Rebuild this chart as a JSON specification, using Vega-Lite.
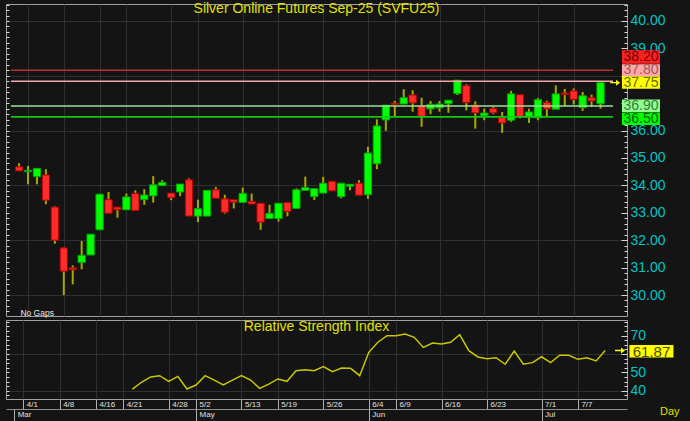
{
  "$schema": "https://vega.github.io/schema/vega-lite/v6.json",
  "background": "#141414",
  "padding": {"left": 5, "top": 1, "right": 12, "bottom": 0},
  "spacing": 4,
  "bounds": "flush",
  "config": {
    "font": "Liberation Sans",
    "view": {"stroke": "#a0a0a0", "strokeWidth": 1},
    "axis": {"labelFont": "Liberation Sans", "titleFont": "Liberation Sans", "domain": false, "labelFlush": false, "labelOverlap": false},
    "title": {"font": "Liberation Sans", "fontSize": 14, "fontWeight": "normal", "color": "#e0e000", "frame": "group", "anchor": "middle", "baseline": "alphabetic"}
  },
  "datasets": {
    "silver": [
      {"date":"2025-03-31","i":0,"open":34.68,"high":34.81,"low":34.52,"close":34.53,"rsi":null},
      {"date":"2025-04-01","i":1,"open":34.50,"high":34.71,"low":34.04,"close":34.55,"rsi":null},
      {"date":"2025-04-02","i":2,"open":34.32,"high":34.62,"low":34.04,"close":34.62,"rsi":null},
      {"date":"2025-04-03","i":3,"open":34.38,"high":34.59,"low":33.31,"close":33.46,"rsi":null},
      {"date":"2025-04-04","i":4,"open":33.21,"high":33.24,"low":31.87,"close":32.00,"rsi":null},
      {"date":"2025-04-08","i":5,"open":31.72,"high":31.74,"low":30.00,"close":30.87,"rsi":null},
      {"date":"2025-04-09","i":6,"open":30.99,"high":31.08,"low":30.39,"close":30.92,"rsi":null},
      {"date":"2025-04-10","i":7,"open":31.19,"high":31.97,"low":30.94,"close":31.45,"rsi":null},
      {"date":"2025-04-11","i":8,"open":31.46,"high":32.22,"low":31.46,"close":32.22,"rsi":null},
      {"date":"2025-04-16","i":9,"open":32.38,"high":33.68,"low":32.38,"close":33.68,"rsi":null},
      {"date":"2025-04-17","i":10,"open":33.48,"high":33.76,"low":32.98,"close":32.98,"rsi":null},
      {"date":"2025-04-18","i":11,"open":33.21,"high":33.21,"low":32.82,"close":33.11,"rsi":null},
      {"date":"2025-04-21","i":12,"open":33.11,"high":33.70,"low":33.11,"close":33.58,"rsi":null},
      {"date":"2025-04-22","i":13,"open":33.71,"high":33.82,"low":33.08,"close":33.08,"rsi":40.9},
      {"date":"2025-04-23","i":14,"open":33.48,"high":33.86,"low":33.29,"close":33.65,"rsi":44.6},
      {"date":"2025-04-24","i":15,"open":33.62,"high":34.34,"low":33.37,"close":34.02,"rsi":47.5},
      {"date":"2025-04-25","i":16,"open":33.99,"high":34.19,"low":33.99,"close":34.11,"rsi":48.2},
      {"date":"2025-04-28","i":17,"open":33.72,"high":33.72,"low":33.46,"close":33.55,"rsi":45.1},
      {"date":"2025-04-29","i":18,"open":33.76,"high":34.05,"low":33.61,"close":34.05,"rsi":47.8},
      {"date":"2025-04-30","i":19,"open":34.21,"high":34.26,"low":32.88,"close":32.88,"rsi":40.9},
      {"date":"2025-05-02","i":20,"open":32.88,"high":33.48,"low":32.66,"close":33.15,"rsi":43.1},
      {"date":"2025-05-05","i":21,"open":32.88,"high":33.82,"low":32.88,"close":33.82,"rsi":48.2},
      {"date":"2025-05-06","i":22,"open":33.84,"high":33.94,"low":33.53,"close":33.53,"rsi":45.8},
      {"date":"2025-05-07","i":23,"open":33.51,"high":33.66,"low":32.97,"close":33.02,"rsi":43.1},
      {"date":"2025-05-08","i":24,"open":33.48,"high":33.48,"low":33.16,"close":33.39,"rsi":45.8},
      {"date":"2025-05-13","i":25,"open":33.38,"high":33.92,"low":33.38,"close":33.71,"rsi":48.2},
      {"date":"2025-05-14","i":26,"open":33.42,"high":33.70,"low":33.32,"close":33.32,"rsi":45.8},
      {"date":"2025-05-15","i":27,"open":33.35,"high":33.35,"low":32.38,"close":32.66,"rsi":41.3},
      {"date":"2025-05-16","i":28,"open":32.79,"high":33.29,"low":32.79,"close":32.98,"rsi":43.6},
      {"date":"2025-05-19","i":29,"open":32.79,"high":33.35,"low":32.68,"close":33.35,"rsi":46.4},
      {"date":"2025-05-20","i":30,"open":33.38,"high":33.38,"low":32.87,"close":33.05,"rsi":45.1},
      {"date":"2025-05-21","i":31,"open":33.16,"high":33.89,"low":33.16,"close":33.84,"rsi":50.9},
      {"date":"2025-05-22","i":32,"open":33.82,"high":34.32,"low":33.82,"close":33.92,"rsi":51.4},
      {"date":"2025-05-23","i":33,"open":33.59,"high":33.88,"low":33.47,"close":33.88,"rsi":50.9},
      {"date":"2025-05-26","i":34,"open":33.72,"high":34.31,"low":33.72,"close":34.08,"rsi":53.1},
      {"date":"2025-05-27","i":35,"open":34.15,"high":34.15,"low":33.80,"close":33.80,"rsi":50.4},
      {"date":"2025-05-28","i":36,"open":33.59,"high":34.08,"low":33.53,"close":34.08,"rsi":52.4},
      {"date":"2025-05-29","i":37,"open":33.97,"high":34.04,"low":33.82,"close":34.04,"rsi":52.2},
      {"date":"2025-06-02","i":38,"open":34.08,"high":34.19,"low":33.64,"close":33.64,"rsi":48.2},
      {"date":"2025-06-04","i":39,"open":33.66,"high":35.41,"low":33.51,"close":35.18,"rsi":60.9},
      {"date":"2025-06-05","i":40,"open":34.79,"high":36.41,"low":34.59,"close":36.17,"rsi":66.4},
      {"date":"2025-06-06","i":41,"open":36.39,"high":36.93,"low":35.99,"close":36.93,"rsi":70.0},
      {"date":"2025-06-09","i":42,"open":37.00,"high":37.08,"low":36.51,"close":36.95,"rsi":70.0},
      {"date":"2025-06-10","i":43,"open":36.97,"high":37.51,"low":36.97,"close":37.20,"rsi":70.9},
      {"date":"2025-06-11","i":44,"open":37.30,"high":37.47,"low":36.69,"close":37.01,"rsi":69.1},
      {"date":"2025-06-12","i":45,"open":36.91,"high":37.20,"low":36.14,"close":36.52,"rsi":63.6},
      {"date":"2025-06-13","i":46,"open":36.79,"high":37.08,"low":36.60,"close":36.96,"rsi":66.0},
      {"date":"2025-06-16","i":47,"open":36.83,"high":37.08,"low":36.69,"close":36.97,"rsi":65.5},
      {"date":"2025-06-17","i":48,"open":36.98,"high":37.11,"low":36.65,"close":37.11,"rsi":66.4},
      {"date":"2025-06-18","i":49,"open":37.35,"high":37.84,"low":37.30,"close":37.84,"rsi":70.5},
      {"date":"2025-06-19","i":50,"open":37.64,"high":37.69,"low":36.74,"close":37.02,"rsi":61.8},
      {"date":"2025-06-20","i":51,"open":36.93,"high":37.07,"low":36.07,"close":36.65,"rsi":58.4},
      {"date":"2025-06-23","i":52,"open":36.54,"high":36.80,"low":36.38,"close":36.64,"rsi":57.4},
      {"date":"2025-06-24","i":53,"open":36.81,"high":36.87,"low":36.60,"close":36.65,"rsi":58.0},
      {"date":"2025-06-25","i":54,"open":36.47,"high":36.68,"low":35.92,"close":36.28,"rsi":54.4},
      {"date":"2025-06-26","i":55,"open":36.38,"high":37.45,"low":36.32,"close":37.34,"rsi":61.6},
      {"date":"2025-06-27","i":56,"open":37.31,"high":37.31,"low":36.45,"close":36.52,"rsi":54.4},
      {"date":"2025-06-30","i":57,"open":36.50,"high":36.80,"low":36.28,"close":36.68,"rsi":55.3},
      {"date":"2025-07-01","i":58,"open":36.47,"high":37.19,"low":36.38,"close":37.13,"rsi":58.5},
      {"date":"2025-07-02","i":59,"open":37.03,"high":37.09,"low":36.52,"close":36.79,"rsi":55.3},
      {"date":"2025-07-03","i":60,"open":36.78,"high":37.65,"low":36.78,"close":37.34,"rsi":59.3},
      {"date":"2025-07-04","i":61,"open":37.37,"high":37.52,"low":36.90,"close":37.31,"rsi":59.3},
      {"date":"2025-07-07","i":62,"open":37.45,"high":37.54,"low":36.95,"close":37.14,"rsi":57.1},
      {"date":"2025-07-08","i":63,"open":36.84,"high":37.41,"low":36.72,"close":37.27,"rsi":58.0},
      {"date":"2025-07-09","i":64,"open":37.20,"high":37.31,"low":36.86,"close":37.08,"rsi":56.2},
      {"date":"2025-07-10","i":65,"open":36.98,"high":37.78,"low":36.80,"close":37.75,"rsi":61.87}
    ],
    "levels": [
      {"name": "upper2", "value": 38.20},
      {"name": "upper1", "value": 37.80},
      {"name": "last", "value": 37.75},
      {"name": "lower1", "value": 36.90},
      {"name": "lower2", "value": 36.50}
    ]
  },
  "vconcat": [
    {
      "width": 621,
      "height": 312,
      "title": {"text": "Silver Online Futures Sep-25 (SVFU25)", "offset": -11.5},
      "data": {"name": "silver"},
      "resolve": {"axis": {"y": "independent"}},
      "layer": [
        {
          "mark": {"type": "rule", "color": "#a8a800", "strokeWidth": 2},
          "encoding": {
            "x": {"field": "i", "type": "quantitative", "scale": {"domain": [-0.9, 67.4], "nice": false, "zero": false},
              "axis": {"values": [1,5,9,12,17,20,25,29,34,39,42,47,52,58,62], "labels": false, "ticks": false, "domain": false, "grid": true, "gridColor": "#303030", "title": null}},
            "y": {"field": "low", "type": "quantitative", "scale": {"domain": [29.234, 40.62], "nice": false, "zero": false},
              "axis": {"orient": "right", "values": [30,31,32,33,34,35,36,37,38,39,40], "labelExpr": "datum.value == 37 || datum.value == 38 ? '' : format(datum.value, '.2f')", "labelColor": "#00c4c4", "labelFontSize": 14, "labelPadding": 9, "tickSize": -6, "tickColor": "#d8d8d8", "domain": false, "grid": true,
                "gridColor": {"condition": {"test": "datum.value % 2 == 0", "value": "#303030"}, "value": "transparent"}, "title": null}},
            "y2": {"field": "high"}
          }
        },
        {
          "mark": {"type": "bar", "size": 7.3, "strokeWidth": 1},
          "encoding": {
            "x": {"field": "i", "type": "quantitative"},
            "y": {"field": "open", "type": "quantitative", "scale": {"domain": [29.234, 40.62], "nice": false, "zero": false},
              "axis": {"orient": "right", "values": [29.4,29.6,29.8,30,30.2,30.4,30.6,30.8,31,31.2,31.4,31.6,31.8,32,32.2,32.4,32.6,32.8,33,33.2,33.4,33.6,33.8,34,34.2,34.4,34.6,34.8,35,35.2,35.4,35.6,35.8,36,36.2,36.4,36.6,36.8,37,37.2,37.4,37.6,37.8,38,38.2,38.4,38.6,38.8,39,39.2,39.4,39.6,39.8,40,40.2,40.4,40.6], "labels": false, "tickSize": -3, "tickColor": "#d8d8d8", "domain": false, "grid": false, "title": null}},
            "y2": {"field": "close"},
            "color": {"condition": {"test": "datum.close >= datum.open", "value": "#00ff00"}, "value": "#ff2a2a"},
            "stroke": {"condition": {"test": "datum.close >= datum.open", "value": "#00a800"}, "value": "#b00000"}
          }
        },
        {
          "data": {"name": "levels"},
          "transform": [{"filter": "datum.name != 'last'"}],
          "mark": {"type": "rule", "strokeWidth": 1.6},
          "encoding": {
            "x": {"datum": -0.9},
            "x2": {"datum": 66.4},
            "y": {"field": "value", "type": "quantitative",
              "axis": {"orient": "left", "values": [29.4,29.6,29.8,30,30.2,30.4,30.6,30.8,31,31.2,31.4,31.6,31.8,32,32.2,32.4,32.6,32.8,33,33.2,33.4,33.6,33.8,34,34.2,34.4,34.6,34.8,35,35.2,35.4,35.6,35.8,36,36.2,36.4,36.6,36.8,37,37.2,37.4,37.6,37.8,38,38.2,38.4,38.6,38.8,39,39.2,39.4,39.6,39.8,40,40.2,40.4,40.6], "labels": false, "tickSize": -3, "tickColor": "#d8d8d8", "domain": false, "grid": false, "title": null}},
            "color": {"field": "name", "type": "nominal", "scale": {"domain": ["upper2", "upper1", "lower1", "lower2"], "range": ["#c03030", "#f0a8a8", "#98e098", "#10c810"]}, "legend": null}
          }
        },
        {
          "data": {"name": "levels"},
          "mark": {"type": "point", "filled": true, "opacity": 1, "size": 4, "strokeWidth": 0},
          "encoding": {
            "x": {"datum": 69.52},
            "y": {"field": "value", "type": "quantitative", "axis": null},
            "shape": {"field": "name", "type": "nominal", "scale": {"domain": ["upper2", "upper1", "last", "lower1", "lower2"], "range": ["M-19,-20H19V-6.5H-19Z", "M-19,-17H19V-5H-19Z", "M-19,-6.5H19V6H-19Z", "M-19,-6.5H19V6H-19Z", "M-19,-4.5H19V8H-19Z"]}, "legend": null},
            "fill": {"field": "name", "type": "nominal", "scale": {"domain": ["upper2", "upper1", "last", "lower1", "lower2"], "range": ["#ff2020", "#ffa8a8", "#ffff00", "#90ff90", "#00ff00"]}, "legend": null}
          }
        },
        {
          "data": {"name": "levels"},
          "transform": [{"filter": "datum.name == 'upper2'"}],
          "mark": {"type": "text", "dy": -13, "fontSize": 14, "color": "#700000", "align": "center", "baseline": "middle"},
          "encoding": {"x": {"datum": 69.52}, "y": {"field": "value", "type": "quantitative", "axis": null}, "text": {"field": "value", "type": "quantitative", "format": ".2f"}}
        },
        {
          "data": {"name": "levels"},
          "transform": [{"filter": "datum.name == 'upper1'"}],
          "mark": {"type": "text", "dy": -11, "fontSize": 14, "color": "#a05858", "align": "center", "baseline": "middle"},
          "encoding": {"x": {"datum": 69.52}, "y": {"field": "value", "type": "quantitative", "axis": null}, "text": {"field": "value", "type": "quantitative", "format": ".2f"}}
        },
        {
          "data": {"name": "levels"},
          "transform": [{"filter": "datum.name == 'last'"}],
          "mark": {"type": "text", "dy": 0, "fontSize": 14, "color": "#6a6a00", "align": "center", "baseline": "middle"},
          "encoding": {"x": {"datum": 69.52}, "y": {"field": "value", "type": "quantitative", "axis": null}, "text": {"field": "value", "type": "quantitative", "format": ".2f"}}
        },
        {
          "data": {"name": "levels"},
          "transform": [{"filter": "datum.name == 'lower1'"}],
          "mark": {"type": "text", "dy": 0, "fontSize": 14, "color": "#3a7a3a", "align": "center", "baseline": "middle"},
          "encoding": {"x": {"datum": 69.52}, "y": {"field": "value", "type": "quantitative", "axis": null}, "text": {"field": "value", "type": "quantitative", "format": ".2f"}}
        },
        {
          "data": {"name": "levels"},
          "transform": [{"filter": "datum.name == 'lower2'"}],
          "mark": {"type": "text", "dy": 2, "fontSize": 14, "color": "#006000", "align": "center", "baseline": "middle"},
          "encoding": {"x": {"datum": 69.52}, "y": {"field": "value", "type": "quantitative", "axis": null}, "text": {"field": "value", "type": "quantitative", "format": ".2f"}}
        },
        {
          "transform": [{"filter": "datum.i == 65"}],
          "mark": {"type": "point", "filled": true, "opacity": 1, "size": 4, "strokeWidth": 0, "shape": "M-5,-0.7H1V-3L5,0L1,3V0.7H-5Z", "color": "#ffff00"},
          "encoding": {"x": {"datum": 66.63}, "y": {"field": "close", "type": "quantitative", "axis": null}}
        },
        {
          "data": {"values": [{}]},
          "mark": {"type": "text", "text": "No Gaps", "fontSize": 8.5, "color": "#e8e8e8", "align": "left", "baseline": "middle"},
          "encoding": {"x": {"datum": 0.15}, "y": {"datum": 29.36, "axis": null}}
        }
      ]
    },
    {
      "width": 621,
      "height": 79,
      "title": {"text": "Relative Strength Index", "offset": -14},
      "data": {"name": "silver"},
      "resolve": {"axis": {"x": "independent", "y": "independent"}},
      "layer": [
        {
          "transform": [{"filter": "isValid(datum.rsi)"}],
          "mark": {"type": "line", "color": "#c8c800", "strokeWidth": 1.5},
          "encoding": {
            "x": {"field": "i", "type": "quantitative", "scale": {"domain": [-0.9, 67.4], "nice": false, "zero": false},
              "axis": {"values": [1,5,9,12,17,20,25,29,34,39,42,47,52,58,62],
                "labelExpr": "['4/1','4/8','4/16','4/21','4/28','5/2','5/13','5/19','5/26','6/4','6/9','6/16','6/23','7/1','7/7'][indexof([1,5,9,12,17,20,25,29,34,39,42,47,52,58,62], datum.value)]",
                "labelFontSize": 8, "labelColor": "#e0e0e0", "labelAlign": "left", "labelBaseline": "top", "labelPadding": -9, "labelOffset": 3,
                "tickSize": 10, "tickColor": "#b0b0b0", "domain": false, "grid": true, "gridColor": "#303030", "title": null}},
            "y": {"field": "rsi", "type": "quantitative", "scale": {"domain": [35.48, 78.53], "nice": false, "zero": false},
              "axis": {"orient": "right", "values": [40, 50, 60, 70], "labelExpr": "datum.value == 60 ? '' : datum.label", "labelColor": "#00c4c4", "labelFontSize": 14, "labelPadding": 9, "tickSize": -6, "tickColor": "#d8d8d8", "domain": false, "grid": true,
                "gridColor": {"condition": {"test": "datum.value % 20 == 0", "value": "#303030"}, "value": "transparent"}, "title": null}}
          }
        },
        {
          "transform": [{"filter": "datum.i == 65"}],
          "mark": {"type": "point", "filled": true, "opacity": 1, "size": 4, "strokeWidth": 0, "shape": "M-22,-5.5H22V7H-22Z", "color": "#ffff00"},
          "encoding": {
            "x": {"datum": 70.09,
              "axis": {"orient": "bottom", "values": [0, 20, 39, 58], "labelExpr": "['Mar','May','Jun','Jul'][indexof([0,20,39,58], datum.value)]",
                "offset": 10, "domain": true, "domainColor": "#909090", "tickSize": 13, "tickColor": "#b0b0b0",
                "labelFontSize": 8, "labelColor": "#e0e0e0", "labelAlign": "left", "labelBaseline": "top", "labelPadding": -12, "labelOffset": 3, "grid": false,
                "title": "Day", "titleColor": "#e0e000", "titleFontSize": 11, "titleFontWeight": "normal", "titleAlign": "right", "titleBaseline": "middle", "titleX": 673, "titleY": 2}},
            "y": {"field": "rsi", "type": "quantitative",
              "axis": {"orient": "right", "values": [37.5,40,42.5,45,47.5,50,52.5,55,57.5,60,62.5,65,67.5,70,72.5,75,77.5], "labels": false, "tickSize": -3, "tickColor": "#d8d8d8", "domain": false, "grid": false, "title": null}}
          }
        },
        {
          "transform": [{"filter": "datum.i == 65"}],
          "mark": {"type": "text", "dy": 1, "fontSize": 15, "color": "#4a4a00", "align": "center", "baseline": "middle"},
          "encoding": {
            "x": {"datum": 70.09, "axis": null},
            "y": {"field": "rsi", "type": "quantitative",
              "axis": {"orient": "left", "values": [37.5,40,42.5,45,47.5,50,52.5,55,57.5,60,62.5,65,67.5,70,72.5,75,77.5], "labels": false, "tickSize": -3, "tickColor": "#d8d8d8", "domain": false, "grid": false, "title": null}},
            "text": {"field": "rsi", "type": "quantitative", "format": ".2f"}
          }
        },
        {
          "transform": [{"filter": "datum.i == 65"}],
          "mark": {"type": "point", "filled": true, "opacity": 1, "size": 4, "strokeWidth": 0, "shape": "M-5,-0.7H1V-3L5,0L1,3V0.7H-5Z", "color": "#ffff00"},
          "encoding": {"x": {"datum": 66.63, "axis": null}, "y": {"field": "rsi", "type": "quantitative", "axis": null}}
        }
      ]
    }
  ]
}
